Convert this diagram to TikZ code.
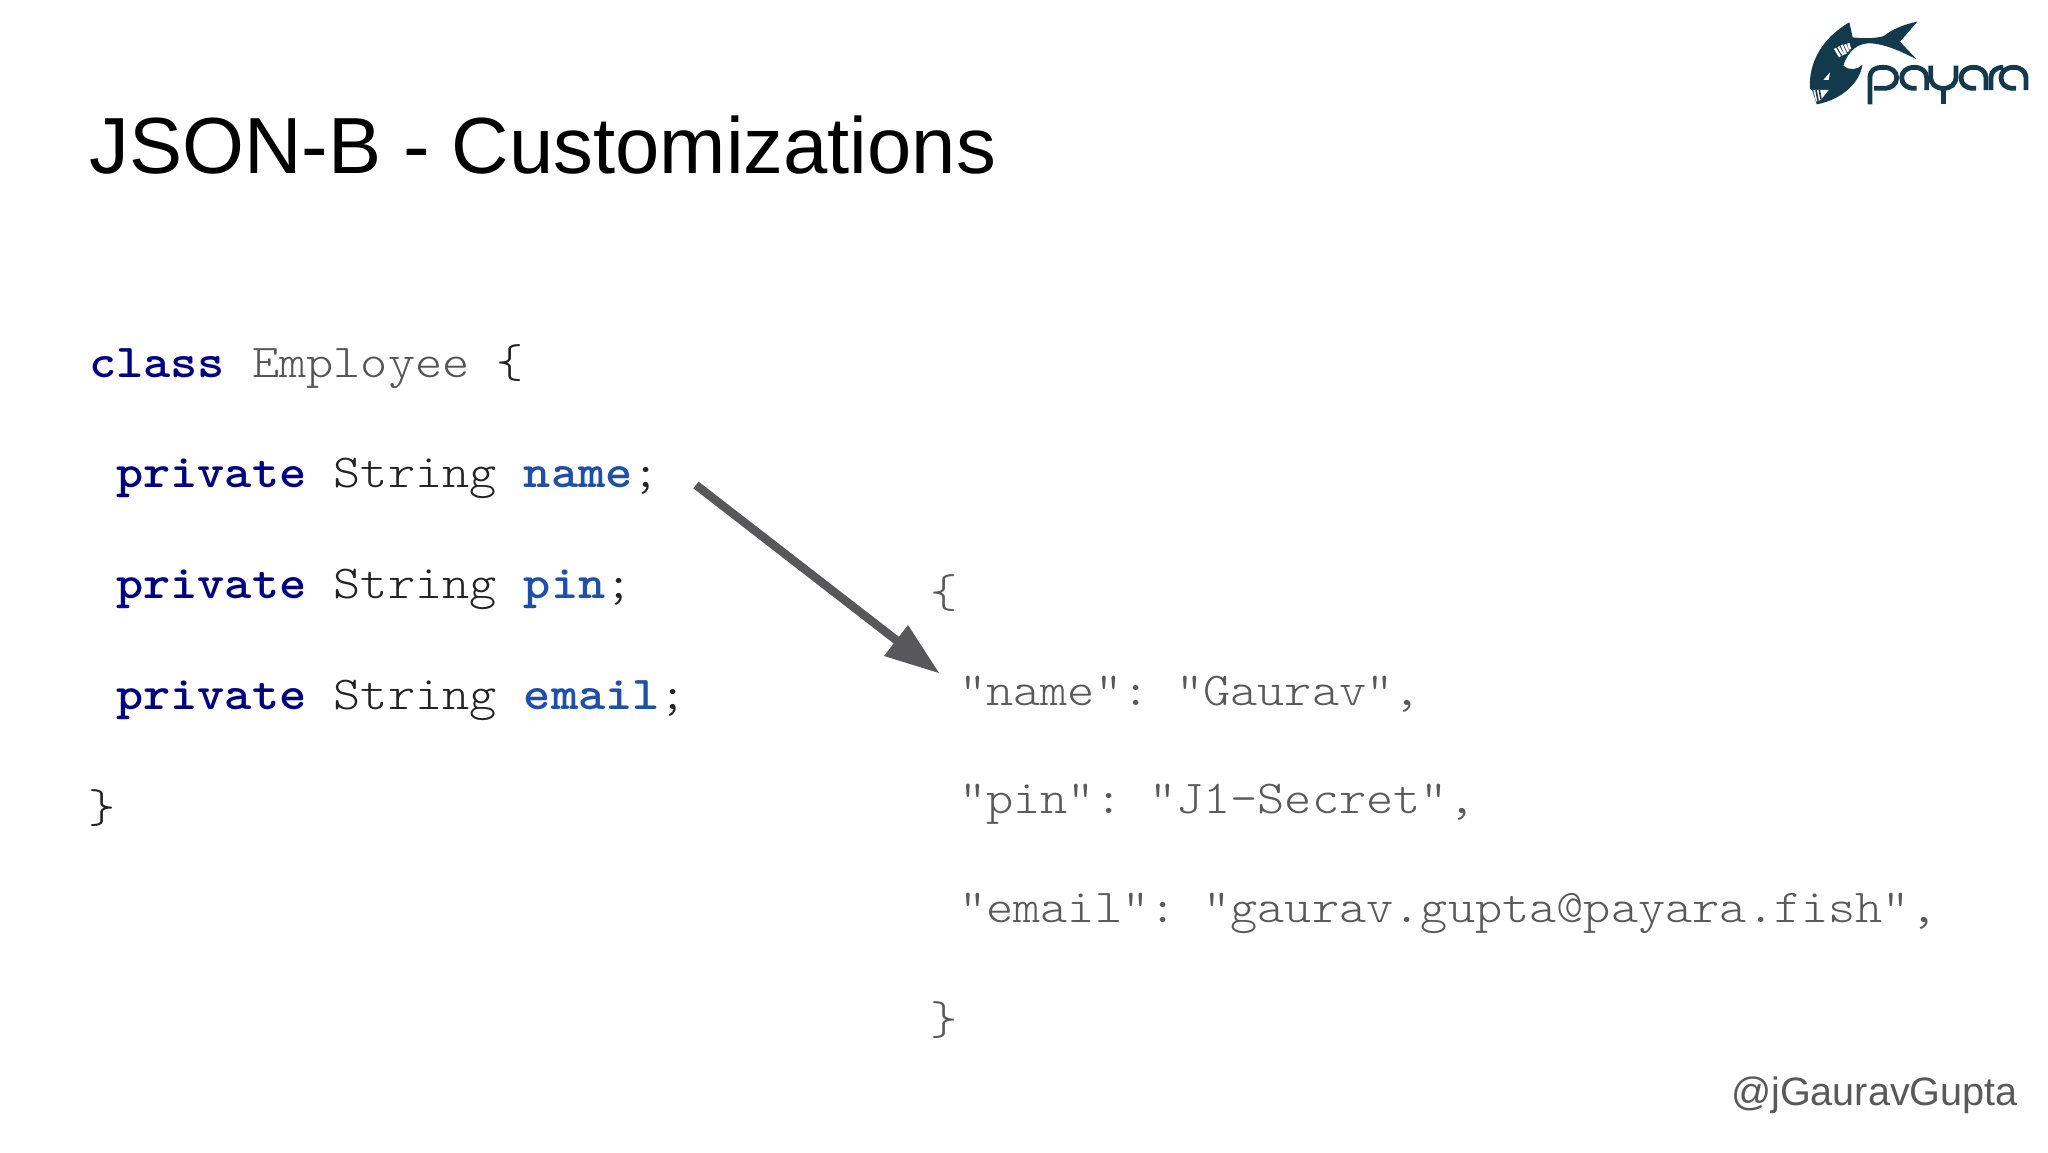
\documentclass[tikz,border=0pt]{standalone}
\usepackage{fontspec}
\setmainfont{Liberation Sans}
\newfontfamily\codefont[FakeStretch=1.097,BoldFont={Latin Modern Mono Light/B}]{Latin Modern Mono Light}
\definecolor{kw}{HTML}{000080}
\definecolor{fld}{HTML}{1F4FA8}
\definecolor{txt}{HTML}{222222}
\definecolor{emp}{HTML}{555555}
\definecolor{jsn}{HTML}{595959}
\definecolor{arrowc}{HTML}{58585B}
\definecolor{logo}{HTML}{123A4C}
\tikzset{
  code/.style={anchor=base west,inner sep=0pt,outer sep=0pt,font=\codefont\fontsize{47.2}{47}\selectfont,text=txt},
  jsontext/.style={code,text=jsn},
  logotext/.style={draw=logo,line width=4.8pt,line cap=butt,line join=round}
}
\newcommand{\logoa}[1]{\draw[logotext,xshift=#1*0.3333pt] (45,100) -- (38,100) .. controls (15,100) and (0,88) .. (0,68) .. controls (0,50) and (15,37) .. (38,37) .. controls (60,37) and (75,50) .. (75,68) -- (75,105);}
\newcommand{\jgap}{\kern-9.5pt}
\begin{document}
\begin{tikzpicture}[x=1pt,y=-1pt]
\useasboundingbox (0,0) rectangle (2048,1152);
\node[anchor=base west,inner sep=0pt,font=\fontsize{79.6}{80}\selectfont,text=black] (title) at (89,173) {JSON-B - Customizations};
\node[code] (l1) at (89,377) {\textcolor{kw}{\bfseries class} \textcolor{emp}{Employee} \{};
\node[code] (l2) at (89,487) {\ \textcolor{kw}{\bfseries private} String \textcolor{fld}{\bfseries name};};
\node[code] (l3) at (89,598) {\ \textcolor{kw}{\bfseries private} String \textcolor{fld}{\bfseries pin};};
\node[code] (l4) at (89,709) {\ \textcolor{kw}{\bfseries private} String \textcolor{fld}{\bfseries email};};
\node[code] (l5) at (88,822) {\}};
\node[jsontext] (j1) at (930,607) {\{};
\node[jsontext] (j2) at (932,705) {\ "name": \jgap"Gaurav",};
\node[jsontext] (j3) at (932,813) {\ "pin": \jgap"J1-Secret",};
\node[jsontext] (j4) at (932,922) {\ "email": \jgap"gaurav.gupta@payara.fish",};
\node[jsontext] (j5) at (930,1034) {\}};
\node[anchor=base east,inner sep=0pt,font=\fontsize{39.6}{40}\selectfont,text=jsn] (handle) at (2018,1105) {@jGauravGupta};
\coordinate (as) at (696,485);
\coordinate (ae) at (939,673);
\coordinate (ab) at (900,643);
\draw[arrowc,line width=8.5pt] (as) -- (ab);
\fill[arrowc] (ae) -- (884,656) -- (908,625) -- cycle;
% logo: fish
\begin{scope}[shift={(1780,0)},x=0.3333pt,y=-0.3333pt]
\fill[logo] (208,67) -- (218,112) .. controls (250,116) and (285,116) .. (312,108)
 .. controls (335,88) and (375,72) .. (412,65) -- (360,125) -- (410,178)
 .. controls (370,158) and (325,135) .. (275,130)
 .. controls (235,128) and (205,150) .. (190,197)
 .. controls (205,212) and (232,210) .. (247,195)
 .. controls (240,245) and (190,298) .. (110,313)
 -- (97,272) -- (90,265)
 .. controls (85,190) and (125,115) .. (208,67) -- cycle;
\foreach \a/\b/\c/\d in {165/145/180/170,175/140/190/165,185/135/197/162,195/133/205/155,205/130/210/148}
  \draw[white,line width=2.4pt] (\a,\b) -- (\c,\d);
\fill[white] (130,240) -- (150,217) -- (146,240) -- cycle;
\fill[white] (100,270) -- (146,270) -- (122,300) -- (108,305) -- cycle;
\foreach \a/\b/\c/\d in {108/270/114/302,118/270/123/298}
  \draw[logo,line width=1.6pt] (\a,\b) -- (\c,\d);
\end{scope}
% logo: lettering
\begin{scope}[shift={(1860,55)},x=0.3333pt,y=-0.3333pt]
\draw[logotext] (30,148) -- (30,68) .. controls (30,45) and (45,37) .. (70,37) .. controls (95,37) and (110,50) .. (110,68) .. controls (110,88) and (95,100) .. (70,100) -- (42,100);
\logoa{125}
\draw[logotext] (212,32) -- (212,65) .. controls (212,88) and (228,100) .. (250,100) .. controls (272,100) and (288,88) .. (288,65) -- (288,32);
\draw[logotext] (250,100) -- (250,148);
\logoa{303}
\draw[logotext] (393,105) -- (393,68) .. controls (393,48) and (408,37) .. (430,37);
\logoa{423}
\end{scope}
\end{tikzpicture}
\end{document}
